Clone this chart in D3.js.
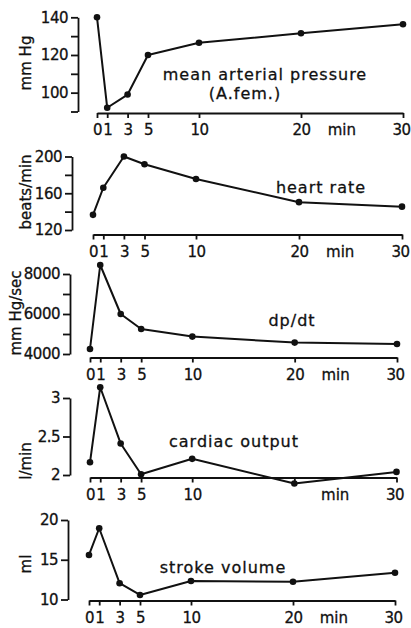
<!DOCTYPE html>
<html>
<head>
<meta charset="utf-8">
<script src="https://cdn.jsdelivr.net/npm/d3@7"></script>
<style>
  html, body { margin: 0; padding: 0; background: #fff; }
  svg { display: block; }
  text { font-family: "DejaVu Sans", sans-serif; fill: #111; stroke: #111; stroke-width: 0.3px; }
</style>
</head>
<body>
<div id="chart"></div>
<script>
// time after injection (min)
const minutes = [0, 1, 3, 5, 10, 20, 30]
const minuteLabels = ["0", "1", "3", "5", "10", "20", "30"]

// series
const mapValues = [140, 92, 99, 120, 126.5, 131.5, 136.3]
const hrValues = [136.5, 166, 200, 191.5, 175.5, 150.3, 145.4]
const dpdtValues = [4250, 8450, 6000, 5250, 4870, 4570, 4500]
const coValues = [2.165, 3.14, 2.41, 2.01, 2.21, 1.89, 2.04]
const svValues = [15.6, 18.96, 12.05, 10.57, 12.33, 12.24, 13.37]

// y ticks (all) and which of them carry a label
const mapTicks = [90, 100, 110, 120, 130, 140]
const mapTickLabels = [100, 120, 140]
const hrTicks = [120, 140, 160, 180, 200]
const hrTickLabels = [120, 160, 200]
const dpdtTicks = [4000, 5000, 6000, 7000, 8000]
const dpdtTickLabels = [4000, 6000, 8000]
const coTicks = [2, 2.5, 3]
const coTickLabels = [2, 2.5, 3]
const svTicks = [10, 15, 20]
const svTickLabels = [10, 15, 20]

const titles = [["mean arterial pressure", "(A.fem.)"], ["heart rate"], ["dp/dt"], ["cardiac output"], ["stroke volume"]]
const units = ["mm Hg", "beats/min", "mm Hg/sec", "l/min", "ml"]

const width = 411, height = 628

const svg = d3.select("#chart").append("svg")
  .attr("width", width)
  .attr("height", height)

// panel layout (pixel positions only)
const panels = [
  { values: mapValues, ticks: mapTicks, labels: mapTickLabels, title: titles[0], unit: units[0],
    yAxisX: 78, yDomain: [90, 140], yRange: [111.5, 17.3], xAxisY: 113, xRange: [97, 403],
    titleX: 265, titleY: [80, 99], unitX: 31, unitY: 63 },
  { values: hrValues, ticks: hrTicks, labels: hrTickLabels, title: titles[1], unit: units[1],
    yAxisX: 72, yDomain: [120, 200], yRange: [230, 156.5], xAxisY: 234.5, xRange: [93, 402],
    titleX: 321, titleY: [193], unitX: 31, unitY: 192 },
  { values: dpdtValues, ticks: dpdtTicks, labels: dpdtTickLabels, title: titles[2], unit: units[2],
    yAxisX: 70, yDomain: [4000, 8000], yRange: [354, 274], xAxisY: 357.5, xRange: [90, 397],
    titleX: 292, titleY: [326], unitX: 21, unitY: 313 },
  { values: coValues, ticks: coTicks, labels: coTickLabels, title: titles[3], unit: units[3],
    yAxisX: 70, yDomain: [2, 3], yRange: [475, 398], xAxisY: 477.5, xRange: [90, 396.5],
    titleX: 234, titleY: [446.5], unitX: 31, unitY: 461, skipX: ["20"] },
  { values: svValues, ticks: svTicks, labels: svTickLabels, title: titles[4], unit: units[4],
    yAxisX: 68, yDomain: [10, 20], yRange: [599.5, 520], xAxisY: 600.5, xRange: [89, 395],
    titleX: 223, titleY: [572.5], unitX: 31, unitY: 564 }
]

panels.forEach(p => {
  const g = svg.append("g")
  const x = d3.scaleLinear().domain([0, 30]).range(p.xRange)
  const y = d3.scaleLinear().domain(p.yDomain).range(p.yRange)

  // y axis
  const yAxis = g.append("g")
    .attr("transform", `translate(${p.yAxisX},0)`)
    .call(d3.axisLeft(y)
      .tickValues(p.ticks)
      .tickSize(7)
      .tickSizeOuter(0)
      .tickPadding(3)
      .tickFormat(d => p.labels.includes(d) ? String(d) : ""))
  yAxis.selectAll("path, line").attr("stroke", "#111").attr("stroke-width", 1.8)
  yAxis.selectAll("text")
    .attr("font-size", 15)
    .attr("letter-spacing", -0.5)
    .attr("font-family", "DejaVu Sans")
    .attr("fill", "#111")

  // x axis
  const xAxis = g.append("g")
    .attr("transform", `translate(0,${p.xAxisY})`)
    .call(d3.axisBottom(x)
      .tickValues(minutes)
      .tickSize(5)
      .tickSizeOuter(0)
      .tickFormat((d, i) => (p.skipX || []).includes(minuteLabels[i]) ? "" : minuteLabels[i]))
  xAxis.selectAll("path, line").attr("stroke", "#111").attr("stroke-width", 1.8)
  xAxis.selectAll("text")
    .attr("y", 22)
    .attr("dy", null)
    .attr("dx", d => d === 30 ? -2 : null)
    .attr("font-size", 15)
    .attr("letter-spacing", -0.5)
    .attr("font-family", "DejaVu Sans")
    .attr("fill", "#111")

  g.append("text")
    .attr("x", x(24))
    .attr("y", p.xAxisY + 22)
    .attr("text-anchor", "middle")
    .attr("font-size", 15)
    .text("min")

  // series line and dots
  const pts = minutes.map((m, i) => [m, p.values[i]])
  g.append("path")
    .datum(pts)
    .attr("fill", "none")
    .attr("stroke", "#111")
    .attr("stroke-width", 2)
    .attr("stroke-linejoin", "round")
    .attr("d", d3.line().x(d => x(d[0])).y(d => y(d[1])))

  g.selectAll("circle")
    .data(pts)
    .join("circle")
    .attr("cx", d => x(d[0]))
    .attr("cy", d => y(d[1]))
    .attr("r", 3.3)
    .attr("fill", "#111")

  // panel title
  p.title.forEach((t, i) => {
    g.append("text")
      .attr("x", p.titleX - (i ? 20 : 0))
      .attr("y", p.titleY[i])
      .attr("text-anchor", "middle")
      .attr("font-size", 16)
      .attr("letter-spacing", 1)
      .text(t)
  })

  // unit, rotated
  g.append("text")
    .attr("transform", `translate(${p.unitX},${p.unitY}) rotate(-90)`)
    .attr("text-anchor", "middle")
    .attr("font-size", 15)
    .text(p.unit)
})
</script>
</body>
</html>
